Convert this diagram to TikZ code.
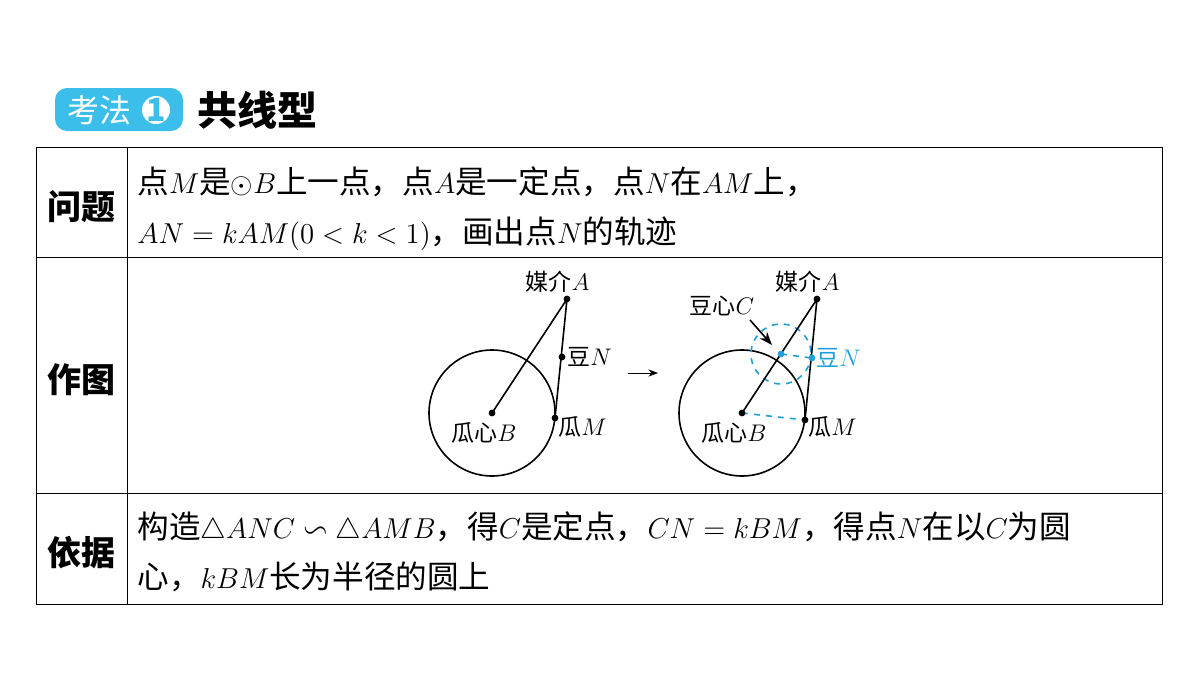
\documentclass[tikz,border=0pt]{standalone}
\usepackage{amssymb}
\usepackage{fontspec}
\setmainfont{Noto Sans CJK SC}
\usetikzlibrary{arrows.meta}
\definecolor{kblue}{RGB}{60,190,235}
\definecolor{dblue}{RGB}{30,160,220}
\tikzset{
  txt/.style={anchor=base west, inner sep=0pt, font=\fontsize{15.8}{18}\selectfont},
  head/.style={font=\fontsize{17}{19}\selectfont\bfseries, inner sep=0pt},
  lbl/.style={inner sep=1pt, font=\fontsize{11.5}{13}\selectfont},
  dot/.style={circle, fill, inner sep=1.2pt}
}
\begin{document}
\begin{tikzpicture}[x=0.5pt, y=-0.5pt]
\useasboundingbox (0,0) rectangle (1200,675);

% badge and title
\fill[kblue, rounded corners=6pt] (55,88) rectangle (183,131);
\node[white, font=\fontsize{16}{18}\selectfont, inner sep=0pt] (badge) at (99,110) {考法};
\fill[white] (156,110) circle (14);
\node[kblue, font=\fontsize{16}{18}\selectfont\bfseries, inner sep=0pt] (one) at (156,110) {1};
\node[anchor=west, font=\fontsize{20}{22}\selectfont\bfseries, inner sep=0pt] (title) at (197,110) {共线型};

% table
\draw (36,147) rectangle (1162,604);
\draw (127,147) -- (127,604);
\foreach \y in {257, 493}
  \draw (36,\y) -- (1162,\y);

\node[head] (q) at (81,207) {问题};
\node[head] (d) at (81,380) {作图};
\node[head] (r) at (81,553) {依据};

\node[txt] (q1) at (137,193) {点$M$是$\odot B$上一点，点$A$是一定点，点$N$在$AM$上，};
\node[txt] (q2) at (137,243) {$AN=kAM(0<k<1)$，画出点$N$的轨迹};
\node[txt] (r1) at (137,538) {构造$\triangle ANC\backsim\triangle AMB$，得$C$是定点，$CN=kBM$，得点$N$在以$C$为圆};
\node[txt] (r2) at (137,588) {心，$kBM$长为半径的圆上};

% left figure
\draw[thick] (492,413) circle (63);
\coordinate (B1) at (492,413);
\coordinate (A1) at (567,299);
\coordinate (M1) at (555,418);
\coordinate (N1) at (562,357);
\draw[thick] (B1) -- (A1) -- (M1);
\foreach \p in {B1, A1, M1, N1}
  \node[dot] at (\p) {};
\node[lbl, anchor=south east] at (592,295) {媒介$A$};
\node[lbl, anchor=west] at (565,357) {豆$N$};
\node[lbl, anchor=west] at (556,427) {瓜$M$};
\node[lbl] at (484,433) {瓜心$B$};

\draw[-{Stealth}] (628,373) -- (658,373);

% right figure
\draw[thick] (742,413) circle (63);
\coordinate (B2) at (742,413);
\coordinate (A2) at (817,299);
\coordinate (M2) at (805,420);
\coordinate (N2) at (812,358);
\coordinate (C2) at (781,354);
\draw[dblue, thick, dashed] (C2) circle (30);
\draw[thick] (B2) -- (A2) -- (M2);
\draw[dblue, thick, dashed] (B2) -- (M2);
\draw[dblue, thick, dashed] (C2) -- (N2);
\foreach \p in {B2, A2, M2}
  \node[dot] at (\p) {};
\node[dot, dblue] at (C2) {};
\node[dot, dblue] at (N2) {};
\node[lbl, anchor=south east] at (842,295) {媒介$A$};
\node[lbl, anchor=west, dblue] at (814,358) {豆$N$};
\node[lbl, anchor=west] at (806,427) {瓜$M$};
\node[lbl] at (734,433) {瓜心$B$};
\node[lbl] (cl) at (722,306) {豆心$C$};
\draw[thick, -{Stealth}] (750,320) -- (772,345);
\end{tikzpicture}
\end{document}
